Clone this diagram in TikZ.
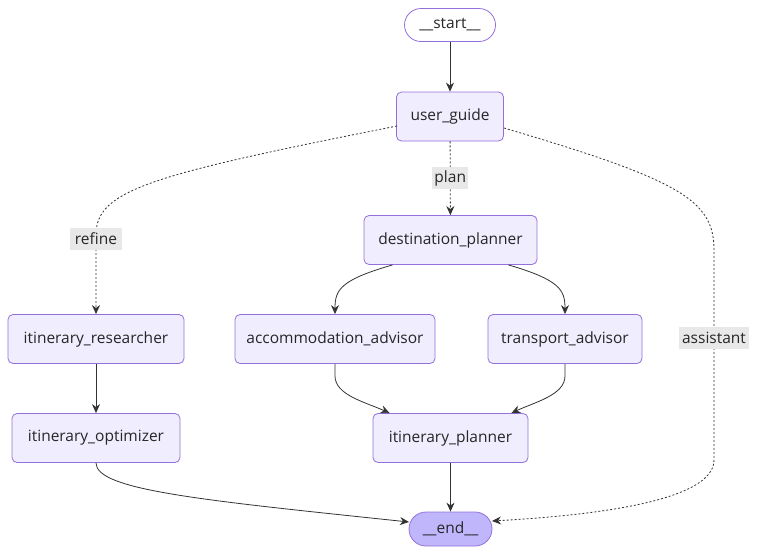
\documentclass[tikz,border=0pt]{standalone}
\usepackage{fontspec}
\setmainfont{Open Sans}
\usetikzlibrary{arrows.meta}
\definecolor{nodefill}{HTML}{F0EDFF}
\definecolor{nodeborder}{HTML}{9370DB}
\definecolor{endfill}{HTML}{BFB6FC}
\definecolor{edgecol}{HTML}{333333}
\definecolor{lblbg}{HTML}{E8E8E8}
\tikzset{
  box/.style={draw=nodeborder, fill=nodefill, rounded corners=5pt, line width=0.8pt,
    minimum height=49pt, inner sep=0pt, text=black!85, font=\fontsize{15.5}{18}\selectfont},
  pill/.style={draw=nodeborder, line width=0.8pt, inner sep=0pt, text=black!85,
    font=\fontsize{15.5}{18}\selectfont},
  edge/.style={draw=edgecol, line width=0.8pt, -{Stealth[length=9pt,width=8pt]}},
  dedge/.style={edge, dash pattern=on 2pt off 2pt},
  lbl/.style={fill=lblbg, inner sep=0pt, minimum height=22pt, text=black!85,
    font=\fontsize{15.5}{18}\selectfont}
}
\begin{document}
\begin{tikzpicture}[x=1pt,y=-1pt]
\useasboundingbox (0,0) rectangle (758,555);
\node[pill, fill=white, rounded corners=16.5pt, minimum width=91pt, minimum height=33pt] (start) at (450,25) {\_\_start\_\_};
\node[box, minimum width=107pt] (ug) at (450,116.5) {user\_guide};
\node[box, minimum width=173pt] (dp) at (450.5,240) {destination\_planner};
\node[box, minimum width=176pt] (ir) at (96,339) {itinerary\_researcher};
\node[box, minimum width=200pt] (aa) at (335,339) {accommodation\_advisor};
\node[box, minimum width=154pt] (ta) at (565,339) {transport\_advisor};
\node[box, minimum width=168pt] (io) at (96,438) {itinerary\_optimizer};
\node[box, minimum width=155pt] (ip) at (450.5,438) {itinerary\_planner};
\node[pill, fill=endfill, rounded corners=17pt, minimum width=83pt, minimum height=34pt] (end) at (450.5,529) {\_\_end\_\_};

\coordinate (ugL) at (397,126);
\coordinate (ugR) at (504,128);
\coordinate (endR) at (492,521);
\coordinate (endL) at (409,522);

\draw[edge] (start) -- (ug);
\draw[dedge] (ug) -- node[lbl, minimum width=36pt, solid] {plan} (dp);
\draw[dedge] (ugL) .. controls (150,175) and (96,190) .. (96,235) -- node[lbl, pos=0.05, minimum width=52pt, solid] {refine} (ir);
\draw[dedge] (ugR) .. controls (680,180) and (714,200) .. (714,250) -- node[lbl, pos=0.42, minimum width=70pt, solid] {assistant} (714,460) .. controls (714,500) and (600,515) .. (endR);
\draw[edge] (dp.south west) ++(29,0) .. controls (340,280) and (335,290) .. (aa.north);
\draw[edge] (dp.south east) ++(-29,0) .. controls (560,280) and (565,290) .. (ta.north);
\draw[edge] (aa.south) -- ++(0,12) .. controls (335,395) and (365,402) .. ([xshift=17pt]ip.north west);
\draw[edge] (ta.south) -- ++(0,12) .. controls (565,395) and (535,402) .. ([xshift=-17pt]ip.north east);
\draw[edge] (ir) -- (io);
\draw[edge] (io.south) .. controls (96,490) and (200,500) .. (endL);
\draw[edge] (ip) -- (end);
\end{tikzpicture}
\end{document}
